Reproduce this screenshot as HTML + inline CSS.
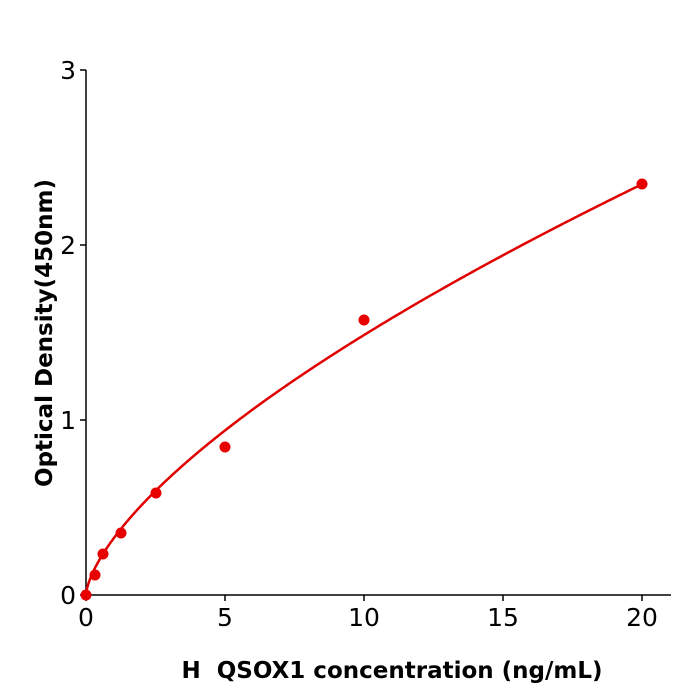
<!DOCTYPE html>
<html><head><meta charset="utf-8"><style>
body{margin:0;background:#fff}
svg{display:block;font-family:"DejaVu Sans","Liberation Sans",sans-serif}
</style></head><body>
<svg id="s" width="700" height="700" viewBox="0 0 700 700">
<g stroke="#000" stroke-width="1.5" fill="none">
<line x1="86" y1="595" x2="671" y2="595"/>
<line x1="86" y1="70" x2="86" y2="595"/>
<line x1="86" y1="595" x2="86" y2="601"/>
<line x1="225" y1="595" x2="225" y2="601"/>
<line x1="364" y1="595" x2="364" y2="601"/>
<line x1="503" y1="595" x2="503" y2="601"/>
<line x1="642" y1="595" x2="642" y2="601"/>
<line x1="80" y1="595" x2="86" y2="595"/>
<line x1="80" y1="420" x2="86" y2="420"/>
<line x1="80" y1="245" x2="86" y2="245"/>
<line x1="80" y1="70" x2="86" y2="70"/>
</g>
<g font-size="25" fill="#000" text-anchor="middle">
<text x="86" y="626">0</text><text x="225" y="626">5</text><text x="364" y="626">10</text><text x="503" y="626">15</text><text x="642" y="626">20</text>
</g>
<g font-size="25" fill="#000" text-anchor="end">
<text x="76" y="604">0</text><text x="76" y="429">1</text><text x="76" y="254">2</text><text x="76" y="79">3</text>
</g>
<text x="392" y="678" font-size="23" font-weight="bold" text-anchor="middle">H&#160; QSOX1 concentration (ng/mL)</text>
<text transform="translate(52,333) rotate(-90)" font-size="23" font-weight="bold" text-anchor="middle">Optical Density(450nm)</text>
<path id="c" fill="none" stroke="#e00000" stroke-width="2.5"/>
<g fill="#e80000">
<circle cx="86" cy="595" r="5.5"/><circle cx="95" cy="575" r="5.5"/><circle cx="103" cy="554" r="5.5"/><circle cx="121" cy="533" r="5.5"/><circle cx="156" cy="493" r="5.5"/><circle cx="225" cy="447" r="5.5"/><circle cx="364" cy="320" r="5.5"/><circle cx="642" cy="184" r="5.5"/>
</g>
</svg>
<script>
var d="";for(var i=0;i<=400;i++){var x=20*Math.pow(i/400,2);var y=0.325*Math.pow(x,0.66);d+=(i?"L":"M")+(86+x*27.8).toFixed(2)+","+(595-y*175).toFixed(2);}
document.getElementById("c").setAttribute("d",d);
</script>
</body></html>
